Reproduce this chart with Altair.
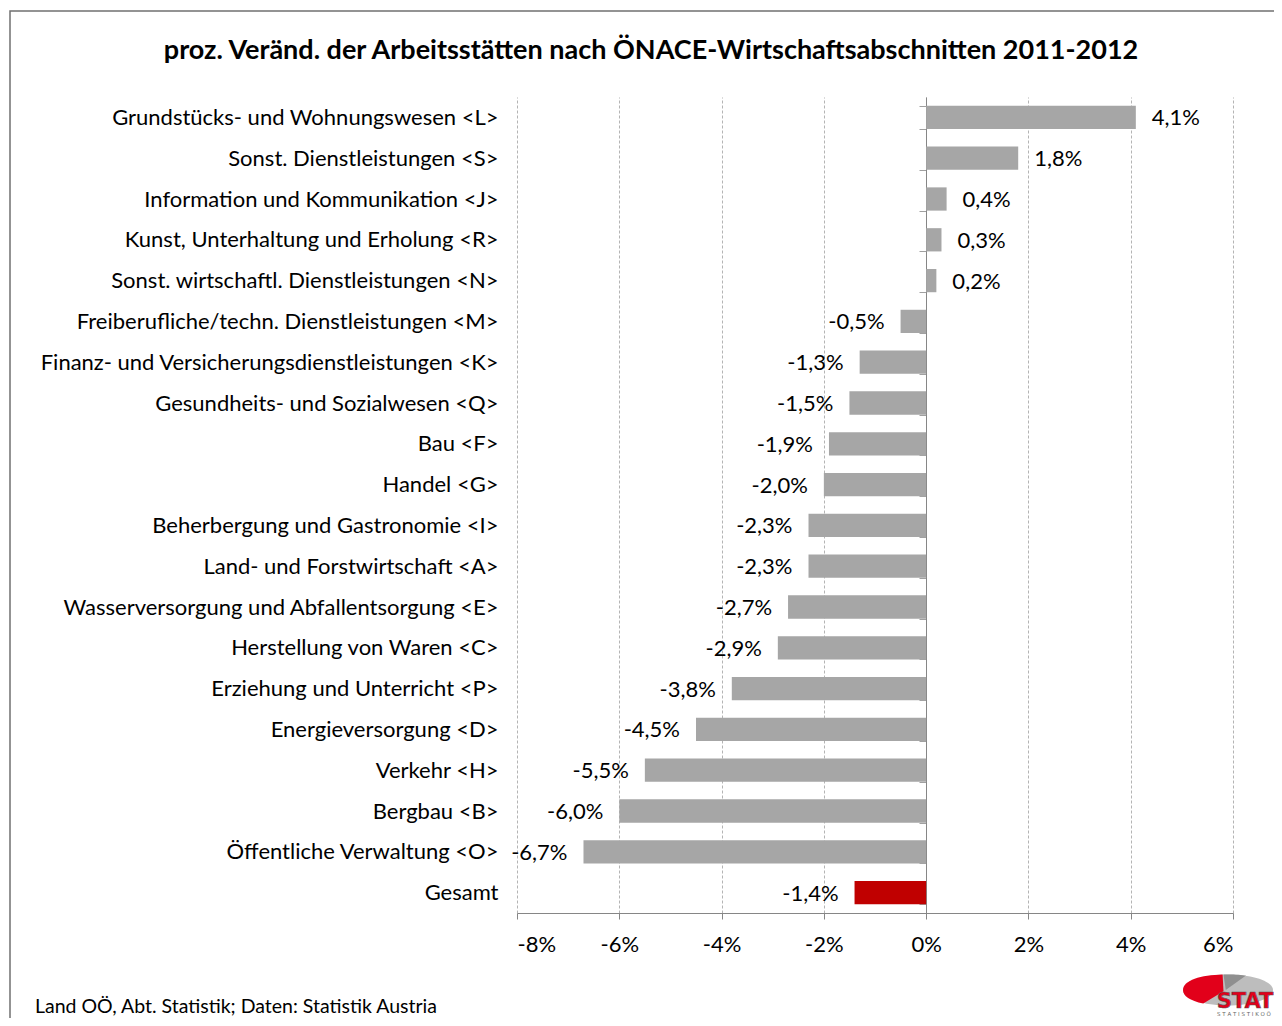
import altair as alt
import pandas as pd

# ---------------- data ----------------
categories = [
    "Grundstücks- und Wohnungswesen <L>",
    "Sonst. Dienstleistungen <S>",
    "Information und Kommunikation <J>",
    "Kunst, Unterhaltung und Erholung <R>",
    "Sonst. wirtschaftl. Dienstleistungen <N>",
    "Freiberufliche/techn. Dienstleistungen <M>",
    "Finanz- und Versicherungsdienstleistungen <K>",
    "Gesundheits- und Sozialwesen <Q>",
    "Bau <F>",
    "Handel <G>",
    "Beherbergung und Gastronomie <I>",
    "Land- und Forstwirtschaft <A>",
    "Wasserversorgung und Abfallentsorgung <E>",
    "Herstellung von Waren <C>",
    "Erziehung und Unterricht <P>",
    "Energieversorgung <D>",
    "Verkehr <H>",
    "Bergbau <B>",
    "Öffentliche Verwaltung <O>",
    "Gesamt",
]
values = [4.1, 1.8, 0.4, 0.3, 0.2, -0.5, -1.3, -1.5, -1.9, -2.0,
          -2.3, -2.3, -2.7, -2.9, -3.8, -4.5, -5.5, -6.0, -6.7, -1.4]
highlight = ["Gesamt"]
x_ticks = [-8, -6, -4, -2, 0, 2, 4, 6]

title_text = "proz. Veränd. der Arbeitsstätten nach ÖNACE-Wirtschaftsabschnitten 2011-2012"
source_text = "Land OÖ, Abt. Statistik; Daten: Statistik Austria"

df = pd.DataFrame({
    "cat": categories,
    "val": values,
    "lbl": [f"{v:.1f}".replace(".", ",") + "%" for v in values],
    "grp": ["Gesamt" if c in highlight else "Abschnitt" for c in categories],
})

FONT = "Lato"
FS = 22
W, H = 716, 816
PAD_L, PAD_T = 509, 89
TOTAL_W, TOTAL_H = 1266, 1010

y_enc = alt.Y(
    "cat:N", sort=categories, title=None,
    scale=alt.Scale(paddingInner=0.43, paddingOuter=0.215),
    axis=alt.Axis(orient="left", offset=-409, domain=True, domainColor="#868686",
                  domainWidth=1, ticks=True, tickBand="extent", tickSize=7,
                  tickColor="#a0a0a0", labelPadding=421, labelLimit=600,
                  labelFont=FONT, labelFontSize=FS, labelColor="#000000",
                  grid=False),
)
x_enc = alt.X(
    "val:Q", title=None,
    scale=alt.Scale(domain=[-8, 6], nice=False, zero=False),
    axis=alt.Axis(values=x_ticks, labelExpr="datum.value + '%'", grid=True,
                  gridColor="#b4b4b4", gridDash=[3, 2], gridWidth=1,
                  domainColor="#868686", tickColor="#868686", tickSize=6,
                  labelPadding=15, labelFont=FONT, labelFontSize=FS,
                  labelColor="#000000"),
)

base = alt.Chart(df)

bars = base.mark_bar().encode(
    y=y_enc, x=x_enc,
    color=alt.Color("grp:N", scale=alt.Scale(domain=["Abschnitt", "Gesamt"],
                                              range=["#a6a6a6", "#c00000"]),
                    legend=None),
)

pos_labels = base.transform_filter("datum.val >= 0").mark_text(
    align="left", baseline="middle", dx=16, dy=1, font=FONT, fontSize=FS, color="#000000"
).encode(y=alt.Y("cat:N", sort=categories), x="val:Q", text="lbl:N")

neg_labels = base.transform_filter("datum.val < 0").mark_text(
    align="right", baseline="middle", dx=-16, dy=1, font=FONT, fontSize=FS, color="#000000"
).encode(y=alt.Y("cat:N", sort=categories), x="val:Q", text="lbl:N")

title = alt.Chart(pd.DataFrame({"t": [title_text]})).mark_text(
    align="center", baseline="middle", font=FONT, fontSize=27, fontWeight="bold",
    color="#000000"
).encode(x=alt.value(651 - 517), y=alt.value(51 - 97), text="t:N")

src = alt.Chart(pd.DataFrame({"t": [source_text]})).mark_text(
    align="left", baseline="alphabetic", font=FONT, fontSize=19.5, color="#000000"
).encode(x=alt.value(35 - 517), y=alt.value(1013 - 97), text="t:N")

frame = alt.Chart(pd.DataFrame({"a": [0]})).mark_rect(
    fill="transparent", stroke="#707070", strokeWidth=1.5
).encode(x=alt.value(10 - 517), x2=alt.value(2000), y=alt.value(11 - 97), y2=alt.value(2000))

# logo
ellipse = "M -1 0 C -1 -0.19 -0.552 -0.345 0 -0.345 C 0.552 -0.345 1 -0.19 1 0 C 1 0.19 0.552 0.345 0 0.345 C -0.552 0.345 -1 0.19 -1 0 Z"
red_wedge = "M -0.1 0.03 L -0.12 -0.345 C -0.6 -0.335 -1 -0.22 -1 0 C -1 0.13 -0.85 0.24 -0.55 0.30 Z"
dark_wedge = "M -0.05 0.0 L -0.1 -0.345 C 0.1 -0.35 0.3 -0.34 0.4 -0.32 Z"
lx, ly = 1228 - 517, 990 - 97
LSIZE = 90 * 90
logo_el = alt.Chart(pd.DataFrame({"a": [0]})).mark_point(
    shape=ellipse, size=LSIZE, filled=True, fill="#bdbdbd", strokeWidth=0, opacity=1
).encode(x=alt.value(lx), y=alt.value(ly))
logo_dark = alt.Chart(pd.DataFrame({"a": [0]})).mark_point(
    shape=dark_wedge, size=LSIZE, filled=True, fill="#8f8f8f", strokeWidth=0, opacity=1
).encode(x=alt.value(lx), y=alt.value(ly))
logo_red = alt.Chart(pd.DataFrame({"a": [0]})).mark_point(
    shape=red_wedge, size=LSIZE, filled=True, fill="#e2001a", strokeWidth=0, opacity=1
).encode(x=alt.value(lx), y=alt.value(ly))
logo_txt = alt.Chart(pd.DataFrame({"t": ["STAT"]})).mark_text(
    align="center", baseline="alphabetic", font="DejaVu Sans", fontSize=21,
    fontWeight="bold", fill="#e2001a", stroke="#555555", strokeWidth=0.6
).encode(x=alt.value(1245 - 517), y=alt.value(1008 - 97), text="t:N")
logo_sub = alt.Chart(pd.DataFrame({"t": ["S T A T I S T I K   O Ö"]})).mark_text(
    align="center", baseline="middle", font="DejaVu Sans", fontSize=5.5, color="#666666"
).encode(x=alt.value(1244 - 517), y=alt.value(1014 - 97), text="t:N")

chart = alt.layer(
    frame, bars, pos_labels, neg_labels, title, src,
    logo_el, logo_dark, logo_red, logo_txt, logo_sub
).properties(
    width=W, height=H,
    autosize=alt.AutoSizeParams(type="none"),
    padding={"left": PAD_L, "top": PAD_T, "right": TOTAL_W - PAD_L - W,
             "bottom": TOTAL_H - PAD_T - H},
    background="#ffffff",
).configure_view(stroke=None)

chart.save("out.html", embed_options={"renderer": "svg", "actions": False})
